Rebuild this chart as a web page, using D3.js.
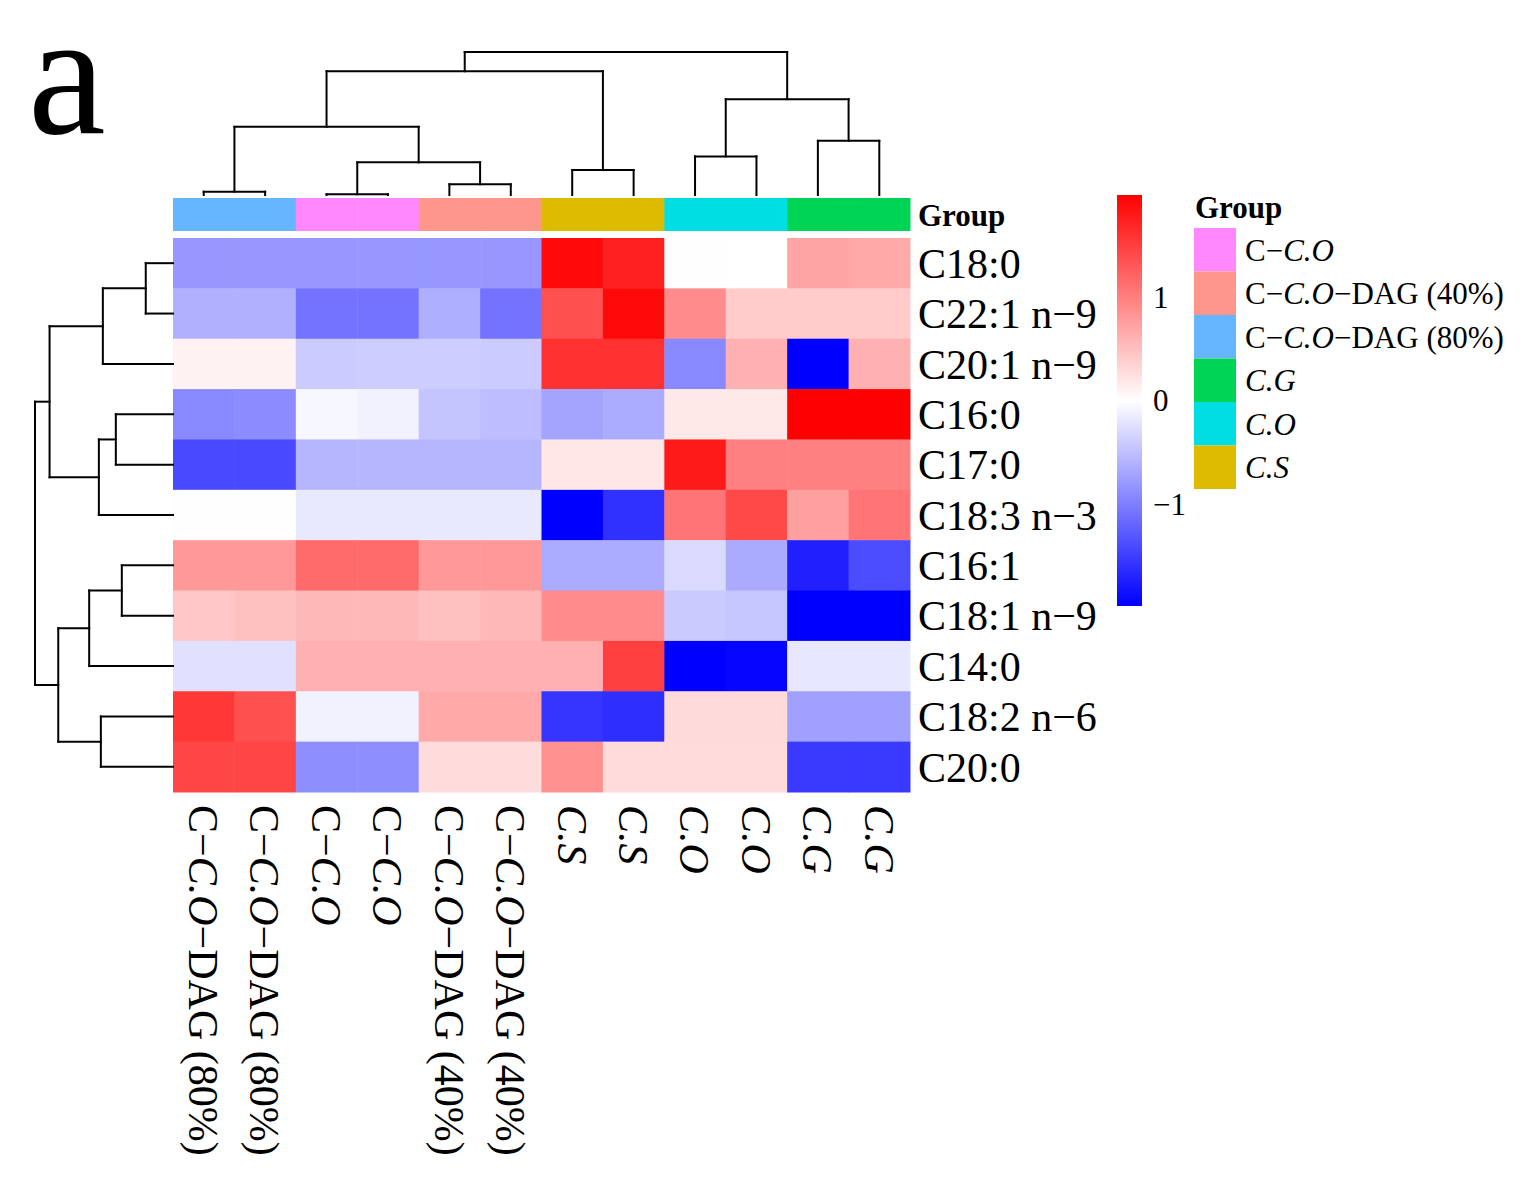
<!DOCTYPE html>
<html>
<head>
<meta charset="utf-8">
<script src="https://cdn.jsdelivr.net/npm/d3@7"></script>
<style>
  body { margin: 0; background: #fff; }
  svg { display: block; }
  text { font-family: "Liberation Serif", "Times New Roman", serif; fill: #000; }
</style>
</head>
<body>
<svg id="chart"></svg>
<script>
// row / column labels in heatmap order
const rowNames = ["C18:0", "C22:1 n−9", "C20:1 n−9", "C16:0", "C17:0", "C18:3 n−3",
                  "C16:1", "C18:1 n−9", "C14:0", "C18:2 n−6", "C20:0"];
const colNames = ["C−C.O−DAG (80%)", "C−C.O−DAG (80%)", "C−C.O", "C−C.O",
                  "C−C.O−DAG (40%)", "C−C.O−DAG (40%)", "C.S", "C.S", "C.O", "C.O", "C.G", "C.G"];
const colGroups = colNames;

// row-scaled values (z-scores), one array per fatty acid
const values = [
  [-0.81, -0.81, -0.81, -0.81, -0.81, -0.81,  1.90,  1.73, -0.01,  0.00,  0.71,  0.67],
  [-0.61, -0.61, -1.09, -1.09, -0.62, -1.09,  1.36,  1.90,  0.89,  0.40,  0.40,  0.40],
  [ 0.10,  0.10, -0.40, -0.39, -0.39, -0.40,  1.60,  1.60, -0.92,  0.61, -1.98,  0.61],
  [-0.92, -0.89, -0.06, -0.10, -0.46, -0.51, -0.71, -0.65,  0.18,  0.18,  1.98,  1.98],
  [-1.41, -1.41, -0.57, -0.57, -0.57, -0.57,  0.19,  0.19,  1.78,  0.99,  0.99,  0.99],
  [-0.01, -0.01, -0.18, -0.18, -0.18, -0.18, -1.98, -1.60,  1.07,  1.42,  0.74,  1.07],
  [ 0.80,  0.80,  1.16,  1.16,  0.79,  0.79, -0.65, -0.65, -0.29, -0.66, -1.73, -1.39],
  [ 0.43,  0.49,  0.55,  0.55,  0.49,  0.55,  0.89,  0.89, -0.41, -0.44, -1.98, -1.98],
  [-0.24, -0.24,  0.61,  0.61,  0.61,  0.61,  0.61,  1.48, -1.98, -1.95, -0.19, -0.19],
  [ 1.55,  1.36, -0.10, -0.10,  0.67,  0.67, -1.57, -1.62,  0.29,  0.29, -0.74, -0.74],
  [ 1.44,  1.44, -0.88, -0.88,  0.27,  0.27,  0.86,  0.27,  0.27,  0.27, -1.53, -1.53]
];

// legend order and annotation colours
const groupNames = ["C−C.O", "C−C.O−DAG (40%)", "C−C.O−DAG (80%)", "C.G", "C.O", "C.S"];
const groupColors = ["#FF88FF", "#FF968C", "#66B5FF", "#00D455", "#00DDE3", "#DDBB00"];
const colorTicks = [1, 0, -1];
const valueMax = 1.98;

// hclust-style merges: negative = leaf (1-based), positive = earlier merge (1-based)
const colMerges = [[-3, -4], [-1, -2], [-5, -6], [-7, -8], [1, 3], [-9, -10],
                   [-11, -12], [2, 5], [6, 7], [8, 4], [10, 9]];
const colHeights = [0.7, 3.3, 10.7, 25, 32.7, 38.7, 54.3, 68.3, 96, 124, 143.3];
const rowMerges = [[-1, -2], [-4, -5], [-7, -8], [-10, -11], [1, -3], [2, -6],
                   [3, -9], [7, 4], [5, 6], [9, 8]];
const rowHeights = [27.3, 57.3, 51.3, 72.3, 70.3, 74.3, 84, 115, 123.7, 138.3];

const W = 1538, H = 1186;
const svg = d3.select('#chart').attr('width', W).attr('height', H);

const hm = {left: 173, right: 910, top: 238, bottom: 792};

const x = d3.scaleBand().domain(d3.range(colNames.length)).range([hm.left, hm.right]);
const y = d3.scaleBand().domain(d3.range(rowNames.length)).range([hm.top, hm.bottom]);
const color = d3.scaleLinear().domain([-valueMax, 0, valueMax])
    .range(["#0000FF", "#FFFFFF", "#FF0000"]).clamp(true);
const groupColor = d3.scaleOrdinal().domain(groupNames).range(groupColors);

// label with the species abbreviations in italic
const addLabel = (sel, label) => {
    label.split(/(C\.[OSG])/).filter(s => s.length).forEach(part => {
        sel.append('tspan')
            .style('font-style', /^C\.[OSG]$/.test(part) ? 'italic' : 'normal')
            .text(part);
    });
};

// cells
const cells = [];
values.forEach((row, r) => row.forEach((v, c) => cells.push({r, c, v})));
svg.append('g').selectAll('rect')
    .data(cells)
    .join('rect')
    .attr('x', d => x(d.c))
    .attr('y', d => y(d.r))
    .attr('width', x.bandwidth() + 0.5)
    .attr('height', y.bandwidth() + 0.5)
    .attr('fill', d => color(d.v));

// group annotation bar
svg.append('g').selectAll('rect')
    .data(colGroups)
    .join('rect')
    .attr('x', (d, i) => x(i))
    .attr('y', 198)
    .attr('width', x.bandwidth() + 0.5)
    .attr('height', 33)
    .attr('fill', d => groupColor(d));

svg.append('text')
    .attr('x', 918).attr('y', 215).attr('dy', '0.35em')
    .style('font-size', '31px').style('font-weight', 'bold')
    .text('Group');

// row labels
svg.append('g').selectAll('text')
    .data(rowNames)
    .join('text')
    .attr('x', 918)
    .attr('y', (d, i) => y(i) + y.bandwidth() / 2)
    .attr('dy', '0.35em')
    .style('font-size', '42px')
    .text(d => d);

// column labels, rotated
svg.append('g').selectAll('text')
    .data(colNames)
    .join('text')
    .attr('transform', (d, i) => `translate(${x(i) + x.bandwidth() / 2}, 805) rotate(90)`)
    .attr('dy', '0.35em')
    .style('font-size', '42px')
    .each(function (d) { addLabel(d3.select(this), d); });

// dendrograms
const dendroSegments = (merges, heights, leafPos) => {
    const nodes = merges.map(() => null);
    const get = (id) => id < 0 ? {pos: leafPos(-id - 1), h: 0} : nodes[id - 1];
    const segs = [];
    merges.forEach(([a, b], k) => {
        const na = get(a), nb = get(b), h = heights[k];
        segs.push([na.pos, na.h, na.pos, h], [na.pos, h, nb.pos, h], [nb.pos, h, nb.pos, nb.h]);
        nodes[k] = {pos: (na.pos + nb.pos) / 2, h};
    });
    return segs;
};

const colH = d3.scaleLinear().domain([0, d3.max(colHeights)]).range([195, 52]);
svg.append('g').selectAll('line')
    .data(dendroSegments(colMerges, colHeights, i => x(i) + x.bandwidth() / 2))
    .join('line')
    .attr('x1', d => d[0]).attr('y1', d => colH(d[1]))
    .attr('x2', d => d[2]).attr('y2', d => colH(d[3]))
    .attr('stroke', '#000').attr('stroke-width', 2).attr('stroke-linecap', 'square');

const rowH = d3.scaleLinear().domain([0, d3.max(rowHeights)]).range([173, 35]);
svg.append('g').selectAll('line')
    .data(dendroSegments(rowMerges, rowHeights, i => y(i) + y.bandwidth() / 2))
    .join('line')
    .attr('x1', d => rowH(d[1])).attr('y1', d => d[0])
    .attr('x2', d => rowH(d[3])).attr('y2', d => d[2])
    .attr('stroke', '#000').attr('stroke-width', 2).attr('stroke-linecap', 'square');

// colour key
const keyY = d3.scaleLinear().domain([-valueMax, valueMax]).range([606, 195]);
const grad = svg.append('defs').append('linearGradient')
    .attr('id', 'key').attr('x1', 0).attr('y1', 1).attr('x2', 0).attr('y2', 0);
grad.selectAll('stop')
    .data(d3.range(0, 1.0001, 0.05))
    .join('stop')
    .attr('offset', d => d)
    .attr('stop-color', d => color(-valueMax + d * 2 * valueMax));
svg.append('rect')
    .attr('x', 1117).attr('y', keyY(valueMax))
    .attr('width', 25).attr('height', keyY(-valueMax) - keyY(valueMax))
    .attr('fill', 'url(#key)');
svg.append('g').selectAll('text')
    .data(colorTicks)
    .join('text')
    .attr('x', 1153)
    .attr('y', d => keyY(d))
    .attr('dy', '0.35em')
    .style('font-size', '31px')
    .text(d => d < 0 ? '−' + Math.abs(d) : d);

// group legend
svg.append('text')
    .attr('x', 1195).attr('y', 218)
    .style('font-size', '31px').style('font-weight', 'bold')
    .text('Group');
const leg = svg.append('g').selectAll('g')
    .data(groupNames)
    .join('g')
    .attr('transform', (d, i) => `translate(1194, ${228 + i * 43.5})`);
leg.append('rect')
    .attr('width', 42).attr('height', 43.5)
    .attr('fill', d => groupColor(d));
leg.append('text')
    .attr('x', 51).attr('y', 21.75).attr('dy', '0.35em')
    .style('font-size', '31px')
    .each(function (d) { addLabel(d3.select(this), d); });

// panel letter
svg.append('text')
    .attr('x', 28).attr('y', 133)
    .style('font-size', '175px')
    .text('a');
</script>
</body>
</html>
